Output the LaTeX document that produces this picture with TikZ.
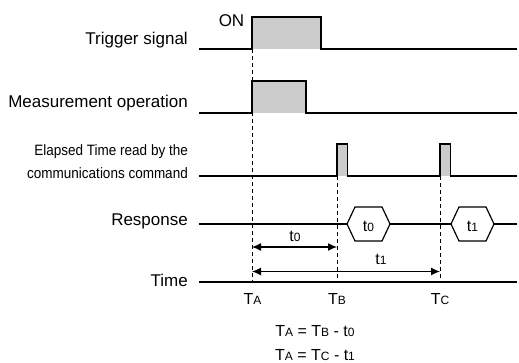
\documentclass[tikz,border=0pt]{standalone}
\usepackage{fontspec}
\setmainfont{Liberation Sans}
\newfontfamily\narrowfont[FakeStretch=0.9]{Liberation Sans}
\usetikzlibrary{arrows.meta}
\definecolor{pulsegray}{RGB}{204,204,204}
\newcommand\lowsub[1]{{\fontsize{12}{12}\selectfont #1}}
\begin{document}
\begin{tikzpicture}[x=1pt,y=-1pt,
  wave/.style={line width=1.5pt, line join=miter},
  pulsefill/.style={fill=pulsegray},
  guide/.style={line width=0.8pt, dash pattern=on 4pt off 3pt},
  lbl/.style={anchor=base east, inner sep=0pt, font=\fontsize{17}{17}\selectfont},
  small/.style={anchor=base, inner sep=0pt, font=\fontsize{16}{16}\selectfont},
  dimarrow/.style={line width=1.2pt, {Latex[length=9pt,width=8pt]}-{Latex[length=9pt,width=8pt]}},
  hexline/.style={line width=1.2pt, line join=miter}]
\useasboundingbox (0,0) rectangle (519,363);

% labels
\node[lbl] (trig) at (188,44.5) {Trigger signal};
\node[lbl] (meas) at (188,107.5) {Measurement operation};
\node[lbl, align=right, font=\narrowfont\fontsize{15}{22.5}\selectfont] (elap) at (188,178.3) {Elapsed Time read by the\\communications command};
\node[lbl] (resp) at (188,225.5) {Response};
\node[lbl] (time) at (188,286.5) {Time};
\node[small, font=\fontsize{17}{17}\selectfont] (on) at (231.5,26.7) {ON};

% coordinates
\coordinate (A0) at (252,49);
\coordinate (A1) at (252,282);
\coordinate (B0) at (337,176);
\coordinate (B1) at (337,282);
\coordinate (C0) at (440,176);
\coordinate (C1) at (440,282);

% trigger signal
\fill[pulsefill] (252,17) rectangle (321,49);
\draw[wave] (199,49) -- (252,49) -- (252,17) -- (321,17) -- (321,49) -- (517,49);
% measurement operation
\fill[pulsefill] (252,81) rectangle (306,113);
\draw[wave] (199,113) -- (252,113) -- (252,81) -- (306,81) -- (306,113) -- (517,113);
% elapsed time read
\fill[pulsefill] (337,144) rectangle (347.5,176);
\fill[pulsefill] (440,144) rectangle (450.5,176);
\draw[wave] (199,176) -- (337,176) -- (337,144) -- (347.5,144) -- (347.5,176) -- (440,176) -- (440,144) -- (450.5,144) -- (450.5,176) -- (517,176);

% response
\draw[wave] (199,224) -- (347,224);
\draw[wave] (390,224) -- (451,224);
\draw[wave] (494,224) -- (517,224);
\draw[hexline] (347,224) -- ++(8,-17) -- ++(27,0) -- ++(8,17) -- ++(-8,17) -- ++(-27,0) -- cycle;
\draw[hexline] (451,224) -- ++(8,-17) -- ++(27,0) -- ++(8,17) -- ++(-8,17) -- ++(-27,0) -- cycle;
\node[small] (h0) at (368.5,231.5) {t\lowsub{0}};
\node[small] (h1) at (472.5,231.5) {t\lowsub{1}};

% time axis
\draw[wave] (199,282) -- (517,282);

% guides
\draw[guide] (A0) -- (A1);
\draw[guide] (B0) -- (B1);
\draw[guide] (C0) -- (C1);

% dimension arrows
\coordinate (d0a) at (252,247);
\coordinate (d0b) at (337,247);
\coordinate (d1a) at (252,271.5);
\coordinate (d1b) at (440,271.5);
\draw[dimarrow] (d0a) -- (d0b);
\draw[dimarrow] (d1a) -- (d1b);
\node[small] (lt0) at (295,241.5) {t\lowsub{0}};
\node[small] (lt1) at (381,265) {t\lowsub{1}};

% time points
\node[small] (ta) at (252.5,304) {T\lowsub{A}};
\node[small] (tb) at (337,304) {T\lowsub{B}};
\node[small] (tc) at (440,304) {T\lowsub{C}};

% equations
\node[small] (eq1) at (315,336) {T\lowsub{A} = T\lowsub{B} - t\lowsub{0}};
\node[small] (eq2) at (315,360) {T\lowsub{A} = T\lowsub{C} - t\lowsub{1}};
\end{tikzpicture}
\end{document}
